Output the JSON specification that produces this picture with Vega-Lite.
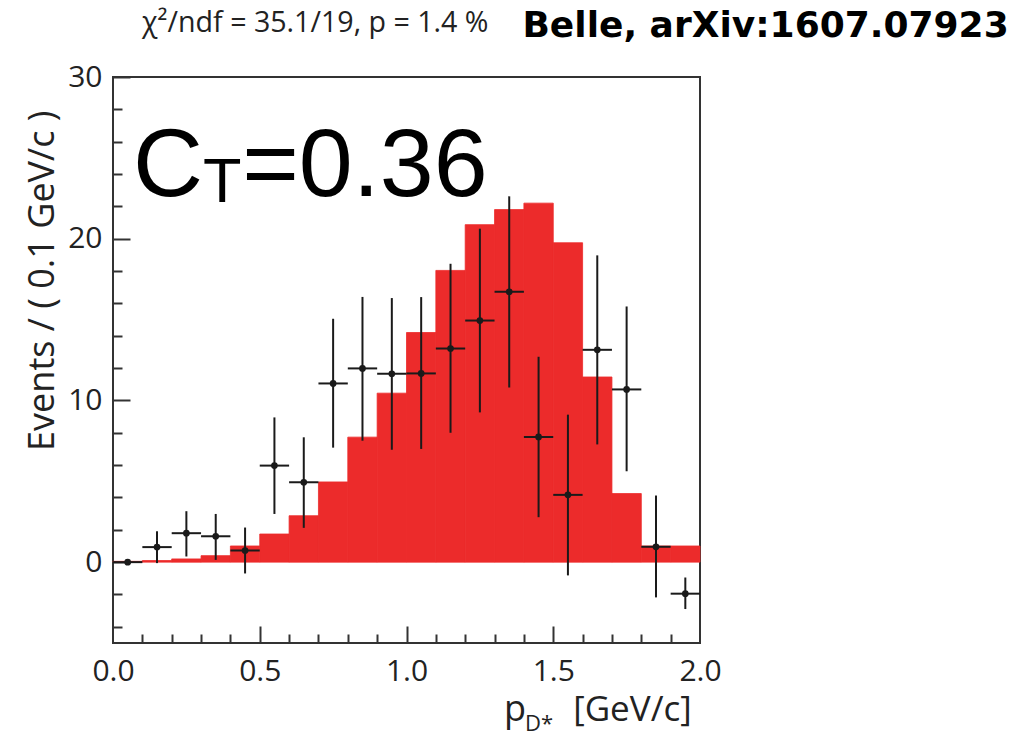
{
  "$schema": "https://vega.github.io/schema/vega-lite/v6.json",
  "width": 587,
  "height": 566,
  "autosize": {"type": "none"},
  "padding": {"left": 113, "top": 77, "right": 320, "bottom": 91},
  "background": "white",
  "config": {"view": {"stroke": "#333", "strokeWidth": 2}, "axis": {"grid": false}},
  "datasets": {
    "hist": [
      {"lo": 0.0, "hi": 0.1, "mc": 0.05},
      {"lo": 0.1, "hi": 0.2, "mc": 0.1},
      {"lo": 0.2, "hi": 0.3, "mc": 0.2},
      {"lo": 0.3, "hi": 0.4, "mc": 0.4},
      {"lo": 0.4, "hi": 0.5, "mc": 1.0},
      {"lo": 0.5, "hi": 0.6, "mc": 1.74},
      {"lo": 0.6, "hi": 0.7, "mc": 2.87},
      {"lo": 0.7, "hi": 0.8, "mc": 4.96},
      {"lo": 0.8, "hi": 0.9, "mc": 7.73},
      {"lo": 0.9, "hi": 1.0, "mc": 10.45},
      {"lo": 1.0, "hi": 1.1, "mc": 14.2},
      {"lo": 1.1, "hi": 1.2, "mc": 18.04},
      {"lo": 1.2, "hi": 1.3, "mc": 20.87},
      {"lo": 1.3, "hi": 1.4, "mc": 21.8},
      {"lo": 1.4, "hi": 1.5, "mc": 22.2},
      {"lo": 1.5, "hi": 1.6, "mc": 19.75},
      {"lo": 1.6, "hi": 1.7, "mc": 11.45},
      {"lo": 1.7, "hi": 1.8, "mc": 4.24},
      {"lo": 1.8, "hi": 1.9, "mc": 1.0},
      {"lo": 1.9, "hi": 2.0, "mc": 1.0}
    ],
    "pts": [
      {"c": 0.05, "lo": 0.0, "hi": 0.1, "y": 0.0, "ylo": 0.0, "yhi": 0.0},
      {"c": 0.15, "lo": 0.1, "hi": 0.2, "y": 0.93, "ylo": -0.06, "yhi": 1.91},
      {"c": 0.25, "lo": 0.2, "hi": 0.3, "y": 1.79, "ylo": 0.35, "yhi": 3.15},
      {"c": 0.35, "lo": 0.3, "hi": 0.4, "y": 1.6, "ylo": 0.14, "yhi": 2.98},
      {"c": 0.45, "lo": 0.4, "hi": 0.5, "y": 0.72, "ylo": -0.7, "yhi": 2.14},
      {"c": 0.55, "lo": 0.5, "hi": 0.6, "y": 5.97, "ylo": 2.98, "yhi": 8.95},
      {"c": 0.65, "lo": 0.6, "hi": 0.7, "y": 4.94, "ylo": 2.12, "yhi": 7.72},
      {"c": 0.75, "lo": 0.7, "hi": 0.8, "y": 11.05, "ylo": 7.08, "yhi": 15.05},
      {"c": 0.85, "lo": 0.8, "hi": 0.9, "y": 11.98, "ylo": 7.51, "yhi": 16.4},
      {"c": 0.95, "lo": 0.9, "hi": 1.0, "y": 11.65, "ylo": 6.95, "yhi": 16.33},
      {"c": 1.05, "lo": 1.0, "hi": 1.1, "y": 11.67, "ylo": 7.0, "yhi": 16.39},
      {"c": 1.15, "lo": 1.1, "hi": 1.2, "y": 13.21, "ylo": 8.0, "yhi": 18.45},
      {"c": 1.25, "lo": 1.2, "hi": 1.3, "y": 14.94, "ylo": 9.26, "yhi": 20.62},
      {"c": 1.35, "lo": 1.3, "hi": 1.4, "y": 16.72, "ylo": 10.8, "yhi": 22.62},
      {"c": 1.45, "lo": 1.4, "hi": 1.5, "y": 7.74, "ylo": 2.78, "yhi": 12.7},
      {"c": 1.55, "lo": 1.5, "hi": 1.6, "y": 4.16, "ylo": -0.82, "yhi": 9.12},
      {"c": 1.65, "lo": 1.6, "hi": 1.7, "y": 13.13, "ylo": 7.28, "yhi": 18.97},
      {"c": 1.75, "lo": 1.7, "hi": 1.8, "y": 10.68, "ylo": 5.62, "yhi": 15.81},
      {"c": 1.85, "lo": 1.8, "hi": 1.9, "y": 0.95, "ylo": -2.18, "yhi": 4.12},
      {"c": 1.95, "lo": 1.9, "hi": 2.0, "y": -1.95, "ylo": -2.9, "yhi": -0.95}
    ]
  },
  "resolve": {"axis": {"x": "independent", "y": "independent"}},
  "layer": [
    {
      "data": {"name": "hist"},
      "mark": {"type": "rect", "fill": "#ec2b2b", "stroke": "#ec2b2b", "strokeWidth": 0.8},
      "encoding": {
        "x": {
          "field": "lo", "type": "quantitative",
          "scale": {"domain": [0, 2], "nice": false, "zero": false},
          "axis": {"orient": "bottom", "values": [0, 0.5, 1, 1.5, 2], "format": ".1f", "ticks": false, "tickSize": 0, "domain": false,
                   "labelFont": "Open Sans", "labelFontSize": 30, "labelColor": "#222", "labelPadding": 13, "labelFlush": false, "labelOverlap": false, "title": null}
        },
        "x2": {"field": "hi"},
        "y": {
          "field": "mc", "type": "quantitative",
          "scale": {"domain": [-5, 30], "nice": false, "zero": false},
          "axis": {"orient": "left", "values": [0, 10, 20, 30], "ticks": false, "tickSize": 0, "domain": false,
                   "labelFont": "Open Sans", "labelFontSize": 30, "labelColor": "#222", "labelPadding": 11, "labelFlush": false, "labelOverlap": false,
                   "title": "Events / ( 0.1 GeV/c )", "titleFont": "Open Sans", "titleFontSize": 36, "titleFontWeight": "normal", "titleColor": "#222",
                   "titleAngle": -90, "titleAlign": "right", "titleBaseline": "alphabetic", "titleX": -60, "titleY": 33}
        },
        "y2": {"datum": 0}
      }
    },
    {
      "data": {"name": "pts"},
      "mark": {"type": "rule", "color": "#1a1a1a", "strokeWidth": 2},
      "encoding": {
        "x": {"field": "c", "type": "quantitative",
              "axis": {"orient": "bottom", "values": [0.5, 1, 1.5], "offset": -17, "tickSize": 17, "tickWidth": 2, "tickColor": "#333", "labels": false, "domain": false, "title": null}},
        "y": {"field": "ylo", "type": "quantitative",
              "axis": {"orient": "left", "values": [0, 10, 20, 30], "offset": -17, "tickSize": 17, "tickWidth": 2, "tickColor": "#333", "labels": false, "domain": false, "title": null}},
        "y2": {"field": "yhi"}
      }
    },
    {
      "data": {"name": "pts"},
      "mark": {"type": "rule", "color": "#1a1a1a", "strokeWidth": 2},
      "encoding": {
        "x": {"field": "lo", "type": "quantitative",
              "axis": {"orient": "bottom", "values": [0.1, 0.2, 0.3, 0.4, 0.6, 0.7, 0.8, 0.9, 1.1, 1.2, 1.3, 1.4, 1.6, 1.7, 1.8, 1.9], "offset": -9, "tickSize": 9, "tickWidth": 2, "tickColor": "#333", "labels": false, "domain": false, "title": null}},
        "x2": {"field": "hi"},
        "y": {"field": "y", "type": "quantitative",
              "axis": {"orient": "left", "values": [-4, -2, 2, 4, 6, 8, 12, 14, 16, 18, 22, 24, 26, 28], "offset": -9, "tickSize": 9, "tickWidth": 2, "tickColor": "#333", "labels": false, "domain": false, "title": null}}
      }
    },
    {
      "data": {"name": "pts"},
      "mark": {"type": "point", "filled": true, "color": "#1a1a1a", "size": 45, "opacity": 1},
      "encoding": {
        "x": {"field": "c", "type": "quantitative", "axis": null},
        "y": {"field": "y", "type": "quantitative", "axis": null}
      }
    },
    {
      "data": {"values": [{}]},
      "mark": {"type": "text", "text": "C", "font": "Liberation Sans", "fontSize": 97, "align": "left", "baseline": "alphabetic", "color": "black"},
      "encoding": {"x": {"datum": 0.068, "type": "quantitative", "axis": null}, "y": {"datum": 22.66, "type": "quantitative", "axis": null}}
    },
    {
      "data": {"values": [{}]},
      "mark": {"type": "text", "text": "T", "font": "Liberation Sans", "fontSize": 63, "align": "left", "baseline": "alphabetic", "color": "black"},
      "encoding": {"x": {"datum": 0.307, "type": "quantitative", "axis": null}, "y": {"datum": 22.29, "type": "quantitative", "axis": null}}
    },
    {
      "data": {"values": [{}]},
      "mark": {"type": "text", "text": "=0.36", "font": "Liberation Sans", "fontSize": 97, "align": "left", "baseline": "alphabetic", "color": "black"},
      "encoding": {"x": {"datum": 0.44, "type": "quantitative", "axis": null}, "y": {"datum": 22.66, "type": "quantitative", "axis": null}}
    },
    {
      "data": {"values": [{}]},
      "mark": {"type": "text", "text": "χ²/ndf = 35.1/19, p = 1.4 %", "font": "Open Sans", "fontSize": 28.6, "align": "left", "baseline": "alphabetic", "color": "#222"},
      "encoding": {"x": {"datum": 0.099, "type": "quantitative", "axis": null}, "y": {"datum": 32.76, "type": "quantitative", "axis": null}}
    },
    {
      "data": {"values": [{}]},
      "mark": {"type": "text", "text": "Belle, arXiv:1607.07923", "font": "DejaVu Sans", "fontWeight": "bold", "fontSize": 36, "align": "left", "baseline": "alphabetic", "color": "black"},
      "encoding": {"x": {"datum": 1.395, "type": "quantitative", "axis": null}, "y": {"datum": 32.45, "type": "quantitative", "axis": null}}
    },
    {
      "data": {"values": [{}]},
      "mark": {"type": "text", "text": "p", "font": "Open Sans", "fontSize": 36, "align": "left", "baseline": "alphabetic", "color": "#222"},
      "encoding": {"x": {"datum": 1.332, "type": "quantitative", "axis": null}, "y": {"datum": -9.85, "type": "quantitative", "axis": null}}
    },
    {
      "data": {"values": [{}]},
      "mark": {"type": "text", "text": "D*", "font": "Open Sans", "fontSize": 22, "align": "left", "baseline": "alphabetic", "color": "#222"},
      "encoding": {"x": {"datum": 1.404, "type": "quantitative", "axis": null}, "y": {"datum": -10.45, "type": "quantitative", "axis": null}}
    },
    {
      "data": {"values": [{}]},
      "mark": {"type": "text", "text": "[GeV/c]", "font": "Open Sans", "fontSize": 35, "align": "left", "baseline": "alphabetic", "color": "#222"},
      "encoding": {"x": {"datum": 1.568, "type": "quantitative", "axis": null}, "y": {"datum": -9.85, "type": "quantitative", "axis": null}}
    }
  ]
}
